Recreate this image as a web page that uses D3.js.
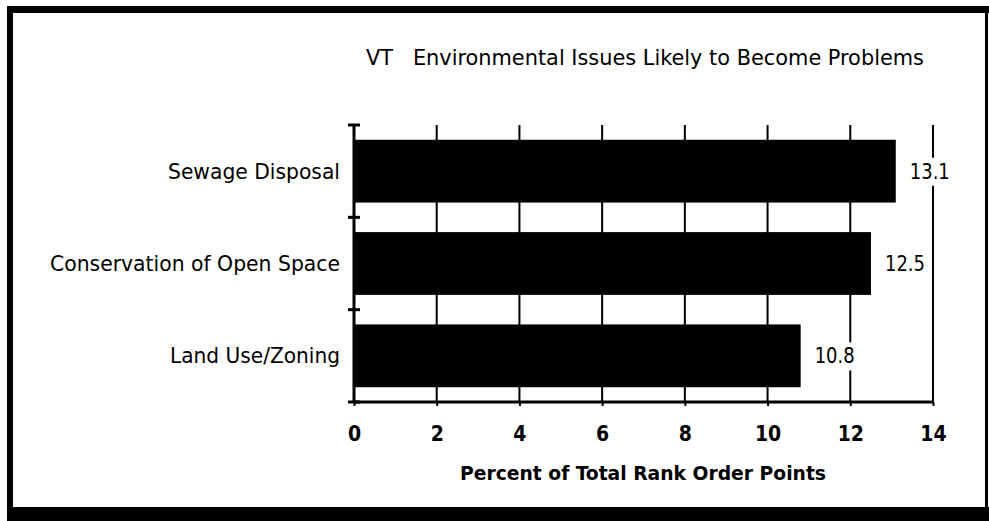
<!DOCTYPE html>
<html>
<head>
<meta charset="utf-8">
<script src="https://cdn.jsdelivr.net/npm/d3@7"></script>
<style>
  html, body { margin: 0; padding: 0; background: #fff; }
  svg { display: block; }
  text { font-family: "DejaVu Sans Condensed", "DejaVu Sans", sans-serif; fill: #000; }
</style>
</head>
<body>
<svg id="chart" width="989" height="521"></svg>
<script>
// Chart data
const categories = ["Sewage Disposal", "Conservation of Open Space", "Land Use/Zoning"];
const values = [13.1, 12.5, 10.8];
const valueLabels = ["13.1", "12.5", "10.8"];
const xTicks = [0, 2, 4, 6, 8, 10, 12, 14];
const title = "VT   Environmental Issues Likely to Become Problems";
const xTitle = "Percent of Total Rank Order Points";

const svg = d3.select("#chart");

// Frame around the whole chart
svg.append("rect").attr("x", 7).attr("y", 6).attr("width", 6).attr("height", 515).attr("fill", "#000");
svg.append("rect").attr("x", 7).attr("y", 6).attr("width", 982).attr("height", 7).attr("fill", "#000");
svg.append("rect").attr("x", 985).attr("y", 6).attr("width", 3).attr("height", 515).attr("fill", "#000");
svg.append("rect").attr("x", 7).attr("y", 507).attr("width", 982).attr("height", 14).attr("fill", "#000");

const plot = { left: 354, right: 933, top: 125, bottom: 402 };

const x = d3.scaleLinear().domain([0, 14]).range([plot.left, plot.right]);
const y = d3.scaleBand().domain(categories).range([plot.top, plot.bottom])
  .paddingInner(0.32).paddingOuter(0.16);

// Title (spaces kept as typed)
svg.append("text")
  .attr("x", 645).attr("y", 65)
  .attr("text-anchor", "middle")
  .attr("font-size", 22)
  .style("white-space", "pre")
  .attr("textLength", 558).attr("lengthAdjust", "spacingAndGlyphs")
  .text(title);

// Vertical grid lines at each tick
svg.append("g").selectAll("line").data(xTicks.slice(1)).join("line")
  .attr("x1", d => x(d)).attr("x2", d => x(d))
  .attr("y1", plot.top).attr("y2", plot.bottom)
  .attr("stroke", "#000").attr("stroke-width", 2);

// Bottom axis via d3.axisBottom
const xAxis = svg.append("g")
  .attr("transform", `translate(0,${plot.bottom})`)
  .call(d3.axisBottom(x).tickValues(xTicks).tickSize(4).tickPadding(20));
xAxis.select(".domain").attr("stroke", "#000").attr("stroke-width", 3)
  .attr("d", `M${plot.left},0H${plot.right}`);
xAxis.selectAll(".tick line").attr("stroke", "#000").attr("stroke-width", 2);
xAxis.selectAll(".tick text")
  .attr("font-size", 21).attr("font-weight", "bold")
  .style("font-family", "'DejaVu Sans Condensed', 'DejaVu Sans', sans-serif");

// Left axis line with small caps at band boundaries
svg.append("line")
  .attr("x1", plot.left).attr("x2", plot.left)
  .attr("y1", plot.top).attr("y2", plot.bottom)
  .attr("stroke", "#000").attr("stroke-width", 3);
const bounds = categories.map(c => y(c) - y.step() * y.paddingInner() / 2).concat([plot.bottom]);
bounds[0] = plot.top;
svg.append("g").selectAll("line").data(bounds).join("line")
  .attr("x1", plot.left - 6).attr("x2", plot.left + 6)
  .attr("y1", d => d).attr("y2", d => d)
  .attr("stroke", "#000").attr("stroke-width", 3);

// Bars
svg.append("g").selectAll("rect").data(categories).join("rect")
  .attr("x", x(0))
  .attr("y", d => y(d))
  .attr("width", (d, i) => x(values[i]) - x(0))
  .attr("height", y.bandwidth())
  .attr("fill", "#000");

// Value labels with white backing sized to the text
const vl = svg.append("g").selectAll("g").data(categories).join("g")
  .attr("transform", (d, i) => `translate(${x(values[i]) + 14},${y(d) + y.bandwidth() / 2})`);
const vlRect = vl.append("rect").attr("fill", "#fff");
const vlText = vl.append("text")
  .attr("dy", "0.36em")
  .attr("font-size", 21)
  .attr("textLength", 40).attr("lengthAdjust", "spacingAndGlyphs")
  .text((d, i) => valueLabels[i]);
vlText.each(function (d, i) {
  const b = this.getBBox();
  d3.select(vlRect.nodes()[i])
    .attr("x", b.x - 2).attr("y", b.y - 2)
    .attr("width", b.width + 6).attr("height", b.height + 4);
});

// Category labels
const catWidths = [172, 290, 170];
svg.append("g").selectAll("text").data(categories).join("text")
  .attr("x", 340)
  .attr("y", d => y(d) + y.bandwidth() / 2)
  .attr("dy", "0.36em")
  .attr("text-anchor", "end")
  .attr("font-size", 21)
  .attr("textLength", (d, i) => catWidths[i]).attr("lengthAdjust", "spacingAndGlyphs")
  .text(d => d);

// Axis title
svg.append("text")
  .attr("x", 643).attr("y", 480)
  .attr("text-anchor", "middle")
  .attr("font-size", 20).attr("font-weight", "bold")
  .attr("textLength", 366).attr("lengthAdjust", "spacingAndGlyphs")
  .text(xTitle);
</script>
</body>
</html>
